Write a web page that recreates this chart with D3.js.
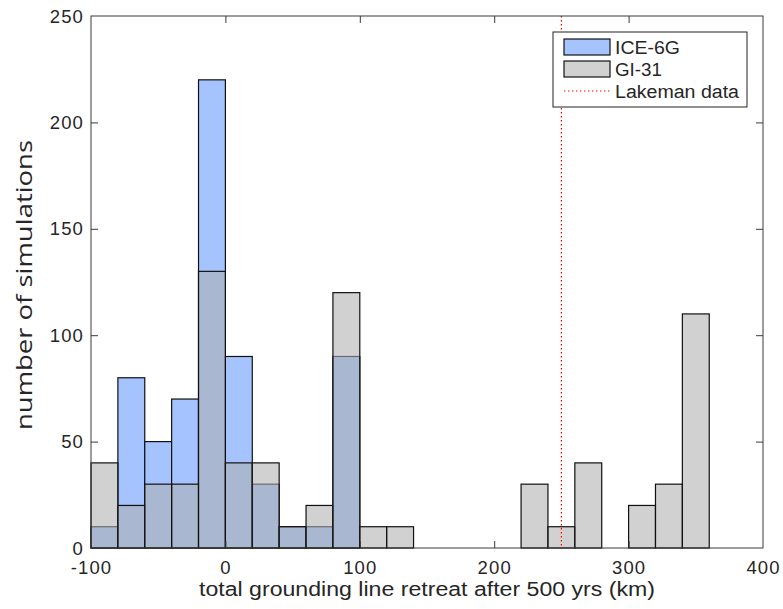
<!DOCTYPE html>
<html>
<head>
<meta charset="utf-8">
<script src="https://cdn.jsdelivr.net/npm/d3@7"></script>
<style>
  body { margin: 0; background: #fff; }
  text { font-family: "Liberation Sans", Arial, sans-serif; fill: #262626; }
</style>
</head>
<body>
<svg id="chart" width="783" height="609"></svg>
<script>
// bin edges start at -100, width 20
var binStart = -100, binWidth = 20;
var ice6g = [10, 80, 50, 70, 220, 90, 30, 10, 10, 90, 0, 0, 0, 0, 0, 0, 0, 0, 0, 0, 0, 0, 0, 0, 0];
var gi31  = [40, 20, 30, 30, 130, 40, 40, 10, 20, 120, 10, 10, 0, 0, 0, 0, 30, 10, 40, 0, 20, 30, 110, 0, 0];
var xTicks = [-100, 0, 100, 200, 300, 400];
var yTicks = [0, 50, 100, 150, 200, 250];
var lakeman = 250;
var legendLabels = ['ICE-6G', 'GI-31', 'Lakeman data'];

var svg = d3.select('#chart');
var pL = 91, pR = 763, pT = 16, pB = 548;   // plot box

var x = d3.scaleLinear().domain([-100, 400]).range([pL, pR]);
var y = d3.scaleLinear().domain([0, 250]).range([pB, pT]);

function bins(vals) {
  return vals.map(function(v, i) { return {x0: binStart + i * binWidth, x1: binStart + (i + 1) * binWidth, v: v}; })
             .filter(function(d) { return d.v > 0; });
}

// blue first, gray drawn over it with transparency
svg.append('g').selectAll('rect').data(bins(ice6g)).enter().append('rect')
  .attr('x', function(d) { return x(d.x0); })
  .attr('width', function(d) { return x(d.x1) - x(d.x0); })
  .attr('y', function(d) { return y(d.v); })
  .attr('height', function(d) { return y(0) - y(d.v); })
  .attr('fill', '#a5c3fe').attr('stroke', '#111').attr('stroke-width', 1.2);

svg.append('g').selectAll('rect').data(bins(gi31)).enter().append('rect')
  .attr('x', function(d) { return x(d.x0); })
  .attr('width', function(d) { return x(d.x1) - x(d.x0); })
  .attr('y', function(d) { return y(d.v); })
  .attr('height', function(d) { return y(0) - y(d.v); })
  .attr('fill', '#afafaf').attr('fill-opacity', 0.573)
  .attr('stroke', '#111').attr('stroke-width', 1.2);

// Lakeman line
svg.append('line')
  .attr('x1', x(lakeman)).attr('x2', x(lakeman))
  .attr('y1', y(250)).attr('y2', y(0))
  .attr('stroke', '#ff0000').attr('stroke-width', 1.2)
  .attr('stroke-dasharray', '1.4,2.6');

// axes box with inner ticks
var axisColor = '#3a3a3a';
var tickLen = 7;
svg.append('rect').attr('x', pL).attr('y', pT).attr('width', pR - pL).attr('height', pB - pT)
  .attr('fill', 'none').attr('stroke', axisColor).attr('stroke-width', 1);

var fmt = function(d) { return String(d); };
var gx = svg.append('g').attr('transform', 'translate(0,' + pB + ')')
  .call(d3.axisBottom(x).tickValues(xTicks).tickSize(-tickLen).tickPadding(13).tickFormat(fmt));
var gxTop = svg.append('g').attr('transform', 'translate(0,' + pT + ')')
  .call(d3.axisTop(x).tickValues(xTicks).tickSize(-tickLen).tickFormat(''));
var gy = svg.append('g').attr('transform', 'translate(' + pL + ',0)')
  .call(d3.axisLeft(y).tickValues(yTicks).tickSize(-tickLen).tickPadding(7).tickFormat(fmt));
var gyRight = svg.append('g').attr('transform', 'translate(' + pR + ',0)')
  .call(d3.axisRight(y).tickValues(yTicks).tickSize(-tickLen).tickFormat(''));

[gx, gxTop, gy, gyRight].forEach(function(g) {
  g.select('.domain').remove();
  g.selectAll('line').attr('stroke', axisColor);
  g.selectAll('text').style('font-family', '"Liberation Sans", Arial, sans-serif')
    .style('font-size', '18.5px').style('letter-spacing', '1.1px').attr('fill', '#333');
});
gy.selectAll('text').attr('dy', '0.33em');
// no ticks at the box corners
gx.selectAll('.tick').filter(function(d) { return d === -100 || d === 400; }).select('line').remove();
gxTop.selectAll('.tick').filter(function(d) { return d === -100 || d === 400; }).select('line').remove();
gy.selectAll('.tick').filter(function(d) { return d === 0 || d === 250; }).select('line').remove();
gyRight.selectAll('.tick').filter(function(d) { return d === 0 || d === 250; }).select('line').remove();

// axis labels
svg.append('text').attr('x', 199).attr('y', 596)
  .style('font-size', '20px')
  .attr('textLength', 456).attr('lengthAdjust', 'spacingAndGlyphs')
  .text('total grounding line retreat after 500 yrs (km)');
svg.append('text').attr('transform', 'translate(32,430) rotate(-90)')
  .style('font-family', '"Open Sans", "DejaVu Sans", sans-serif').style('font-size', '21px')
  .attr('fill', '#111')
  .attr('textLength', 290).attr('lengthAdjust', 'spacingAndGlyphs')
  .text('number of simulations');

// legend
var lg = svg.append('g');
lg.append('rect').attr('x', 553).attr('y', 32).attr('width', 194).attr('height', 75)
  .attr('fill', '#fff').attr('stroke', '#222').attr('stroke-width', 1);
var rowY = [47, 69, 91];
var legendWidths = [65, 47, 124];
lg.append('rect').attr('x', 564).attr('y', rowY[0] - 8).attr('width', 46).attr('height', 16)
  .attr('fill', '#a5c3fe').attr('stroke', '#111').attr('stroke-width', 1.2);
lg.append('rect').attr('x', 564).attr('y', rowY[1] - 8).attr('width', 46).attr('height', 16)
  .attr('fill', '#d1d1d1').attr('stroke', '#111').attr('stroke-width', 1.2);
lg.append('line').attr('x1', 564).attr('x2', 610).attr('y1', rowY[2]).attr('y2', rowY[2])
  .attr('stroke', '#ff0000').attr('stroke-width', 1.2).attr('stroke-dasharray', '1.4,2.6');
lg.selectAll('text.lbl').data(legendLabels).enter().append('text')
  .attr('class', 'lbl')
  .attr('x', 615).attr('y', function(d, i) { return rowY[i] + 6.5; })
  .attr('textLength', function(d, i) { return legendWidths[i]; })
  .attr('lengthAdjust', 'spacingAndGlyphs')
  .style('font-size', '18px').text(function(d) { return d; });
</script>
</body>
</html>
